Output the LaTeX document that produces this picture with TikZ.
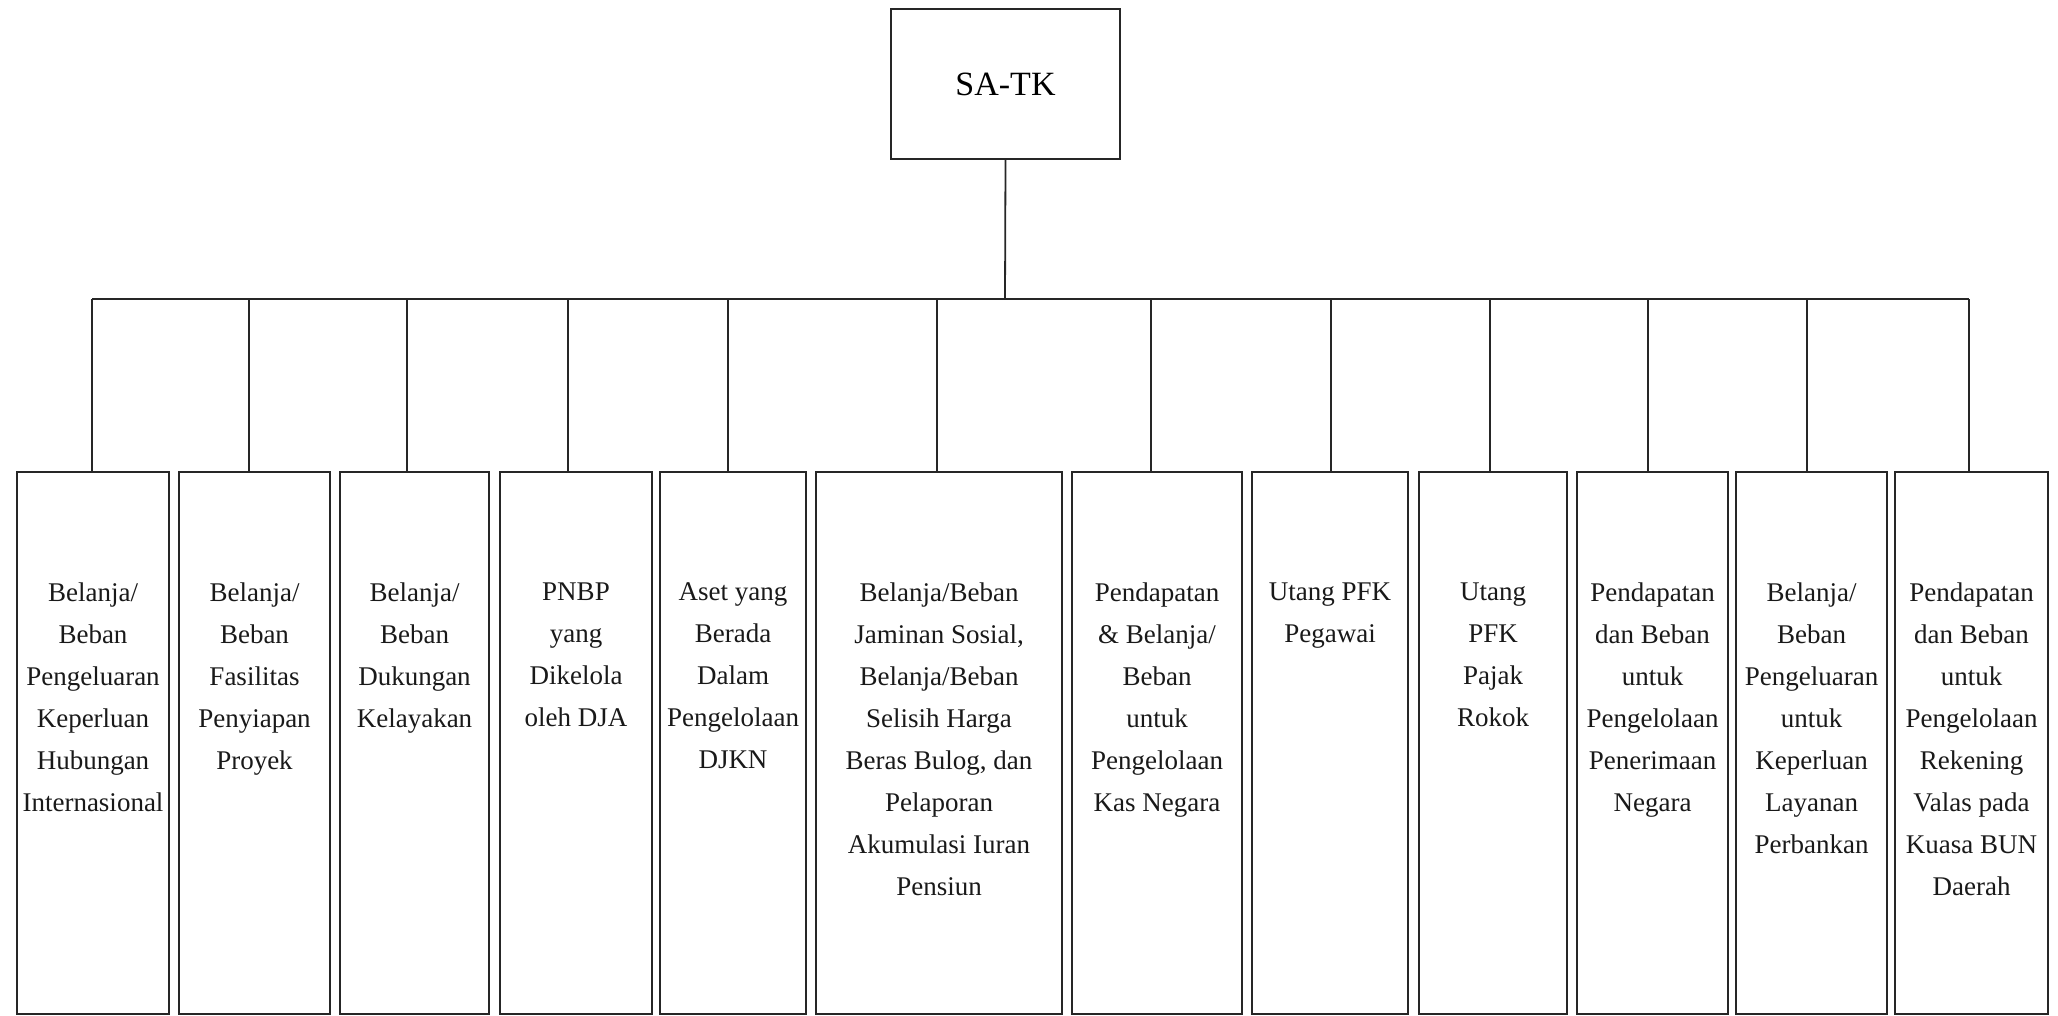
\documentclass[tikz,border=0pt]{standalone}
\usepackage{fontspec}
\setmainfont{Liberation Serif}
\begin{document}
\begin{tikzpicture}[x=1pt,y=-1pt,
  line width=2pt,
  rootbox/.style={draw=black!85, rectangle, inner sep=0pt,
    minimum width=229pt, minimum height=150pt,
    font=\fontsize{34}{40}\selectfont},
  leaf/.style={draw=black!85, rectangle, inner sep=0pt, anchor=north west},
  leaftext/.style={anchor=north, inner sep=0pt, align=center,
    font=\fontsize{27}{42}\selectfont, text=black!90},
  wire/.style={draw=black!85, line width=1.8pt}]

% page frame
\useasboundingbox (0,0) rectangle (2058,1016);

% root
\node[rootbox] (root) at (1005.5,84) {SA-TK};
\coordinate (bus) at (1005,299);

% leaf boxes (left edge, width) and the points where their drops leave the bus
\foreach \n/\x/\w/\dx in {1/16/152/92, 2/178/151/249, 3/339/149/407, 4/499/152/568,
  5/659/146/728, 6/815/246/937, 7/1071/170/1151, 8/1251/156/1331, 9/1418/148/1490,
  10/1576/151/1648, 11/1735/151/1807, 12/1894/153/1969}{
  \node[leaf, minimum width=\w pt, minimum height=542pt] (b\n) at (\x,471) {};
  \coordinate (d\n) at (\dx,299);
}

% texts
\node[leaftext] (t1) at (b1.north |- 0,582) {Belanja/\\Beban\\Pengeluaran\\Keperluan\\Hubungan\\Internasional};
\node[leaftext] (t2) at (b2.north |- 0,582) {Belanja/\\Beban\\Fasilitas\\Penyiapan\\Proyek};
\node[leaftext] (t3) at (b3.north |- 0,582) {Belanja/\\Beban\\Dukungan\\Kelayakan};
\node[leaftext] (t4) at (b4.north |- 0,582) {PNBP\\yang\\Dikelola\\oleh DJA};
\node[leaftext] (t5) at (b5.north |- 0,582) {Aset yang\\Berada\\Dalam\\Pengelolaan\\DJKN};
\node[leaftext] (t6) at (b6.north |- 0,582) {Belanja/Beban\\Jaminan Sosial,\\Belanja/Beban\\Selisih Harga\\Beras Bulog, dan\\Pelaporan\\Akumulasi Iuran\\Pensiun};
\node[leaftext] (t7) at (b7.north |- 0,582) {Pendapatan\\\& Belanja/\\Beban\\untuk\\Pengelolaan\\Kas Negara};
\node[leaftext] (t8) at (b8.north |- 0,582) {Utang PFK\\Pegawai};
\node[leaftext] (t9) at (b9.north |- 0,582) {Utang\\PFK\\Pajak\\Rokok};
\node[leaftext] (t10) at (b10.north |- 0,582) {Pendapatan\\dan Beban\\untuk\\Pengelolaan\\Penerimaan\\Negara};
\node[leaftext] (t11) at (b11.north |- 0,582) {Belanja/\\Beban\\Pengeluaran\\untuk\\Keperluan\\Layanan\\Perbankan};
\node[leaftext] (t12) at (b12.north |- 0,582) {Pendapatan\\dan Beban\\untuk\\Pengelolaan\\Rekening\\Valas pada\\Kuasa BUN\\Daerah};

% connectors
\draw[wire] (root.south) -- (bus);
\draw[wire] (d1) -- (d12);
\foreach \n in {1,...,12}{
  \draw[wire] (d\n) -- (d\n |- b\n.north);
}
\end{tikzpicture}
\end{document}
